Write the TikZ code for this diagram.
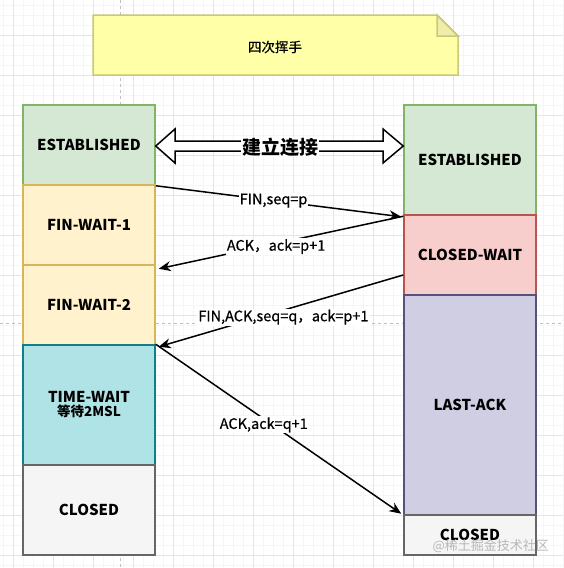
\documentclass[tikz,border=0pt]{standalone}
\usepackage{fontspec}
\setmainfont{Noto Sans CJK SC}
\newfontfamily\medfont{Noto Sans CJK SC}[FakeBold=0.5]
\usetikzlibrary{arrows.meta,calc}
\definecolor{gfill}{HTML}{D5E8D4}\definecolor{gline}{HTML}{82B366}
\definecolor{yfill}{HTML}{FFF2CC}\definecolor{yline}{HTML}{D6B656}
\definecolor{tfill}{HTML}{B0E3E6}\definecolor{tline}{HTML}{0E8088}
\definecolor{cfill}{HTML}{F5F5F5}\definecolor{cline}{HTML}{666666}
\definecolor{rfill}{HTML}{F8CECC}\definecolor{rline}{HTML}{B85450}
\definecolor{pfill}{HTML}{D0CEE2}\definecolor{pline}{HTML}{56517E}
\definecolor{nfill}{HTML}{FFFFA8}\definecolor{nline}{HTML}{C8C878}
\definecolor{nfold}{HTML}{EEEEAA}
\begin{document}
\begin{tikzpicture}[x=1pt,y=-1pt,
  minorgrid/.style={draw=black!4, line width=0.5pt},
  majorgrid/.style={draw=black!10, line width=0.7pt},
  pagebreak/.style={draw=black!25, dashed, line width=0.6pt},
  state/.style={draw, line width=1.5pt, minimum width=132pt, inner sep=0pt, align=center,
    font=\bfseries\fontsize{15}{17}\selectfont},
  msg/.style={line width=1.5pt, -{Stealth[length=12pt,width=10pt]}},
  lbl/.style={fill=white, inner sep=1pt, font=\medfont\fontsize{14.5}{16}\selectfont},
  notebox/.style={draw=nline, fill=nfill, line width=1.5pt, line join=miter},
  dblarrow/.style={draw=black, fill=white, line width=1.5pt, line join=miter}]
\useasboundingbox (0,0) rectangle (563,568);
\fill[white] (0,0) rectangle (563,568);
% background grid
\foreach \x in {3,13,...,563} \draw[minorgrid] (\x,0) -- (\x,568);
\foreach \y in {5,15,...,565} \draw[minorgrid] (0,\y) -- (563,\y);
\foreach \x in {13,53,...,563} \draw[majorgrid] (\x,0) -- (\x,568);
\foreach \y in {35,75,...,565} \draw[majorgrid] (0,\y) -- (563,\y);
\draw[pagebreak] (120,0) -- (120,568);
\draw[pagebreak] (0,323) -- (563,323);
% note
\draw[notebox] (93,15) -- (437,15) -- (458,36) -- (458,75) -- (93,75) -- cycle;
\draw[notebox, fill=nfold] (437,15) -- (437,36) -- (458,36) -- cycle;
\node[font=\medfont\fontsize{13.5}{15}\selectfont] (title) at (275,47) {四次挥手};
% left column
\node[state, fill=gfill, draw=gline, minimum height=80pt] (lE) at (89,145) {ESTABLISHED};
\node[state, fill=yfill, draw=yline, minimum height=80pt] (lF1) at (89,225) {FIN-WAIT-1};
\node[state, fill=yfill, draw=yline, minimum height=80pt] (lF2) at (89,305) {FIN-WAIT-2};
\node[state, fill=tfill, draw=tline, minimum height=120pt] (lT) at (89,405) {TIME-WAIT\\[-3pt]{\fontsize{13.5}{15}\selectfont 等待2MSL}};
\node[state, fill=cfill, draw=cline, minimum height=90pt] (lC) at (89,510) {CLOSED};
% right column
\node[state, fill=gfill, draw=gline, minimum height=110pt] (rE) at (470,160) {ESTABLISHED};
\node[state, fill=rfill, draw=rline, minimum height=80pt] (rCW) at (470,255) {CLOSED-WAIT};
\node[state, fill=pfill, draw=pline, minimum height=220pt] (rLA) at (470,405) {LAST-ACK};
\node[state, fill=cfill, draw=cline, minimum height=40pt] (rC) at (470,535) {CLOSED};
% connection double arrow
\draw[dblarrow] ($(lE.east)+(0,1)$) -- (175,129) -- (175,141) -- (383,141) -- (383,129)
  -- ($(rE.west)+(0,-14)$) -- (383,163) -- (383,151) -- (175,151) -- (175,163) -- cycle;
\node[fill=white, inner sep=1pt, font=\bfseries\fontsize{19}{21}\selectfont] (conn) at (280,147) {建立连接};
% messages
\draw[msg] (lE.south east) -- node[lbl, pos=0.48] (m1) {FIN,seq=p} ($(rE.south west)+(-2,1)$);
\draw[msg] ($(rCW.north west)+(0,2)$) -- node[lbl, pos=0.52, yshift=-3pt] (m2) {ACK，ack=p+1} ($(lF1.south east)+(3,3)$);
\draw[msg] ($(rCW.west)+(0,20)$) -- node[lbl, pos=0.49, yshift=-7pt] (m3) {FIN,ACK,seq=q，ack=p+1} ($(lF2.south east)+(3,1)$);
\draw[msg] (lT.north east) -- node[lbl, pos=0.44, yshift=-6pt] (m4) {ACK,ack=q+1} ($(rLA.south west)+(-2,-2)$);
% watermark
\node[anchor=east, text=black!28, inner sep=0pt, font=\fontsize{13}{14}\selectfont] (wm) at (549,546) {@稀土掘金技术社区};
\end{tikzpicture}
\end{document}
